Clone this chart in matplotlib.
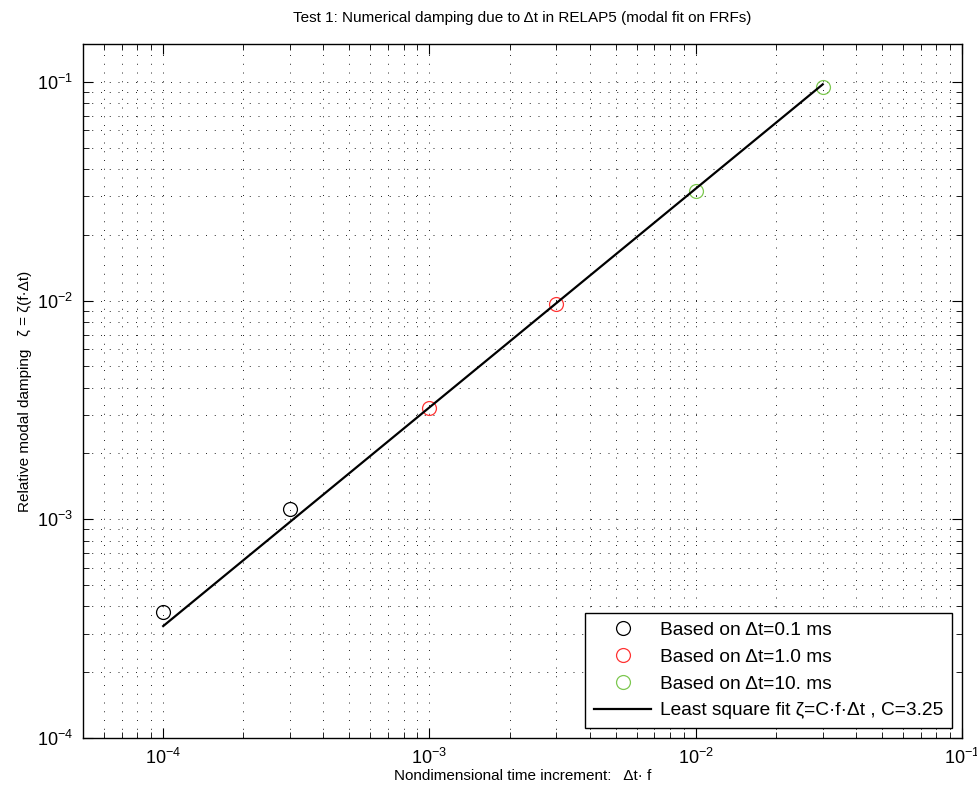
import matplotlib
matplotlib.use("Agg")
import matplotlib.pyplot as plt
from matplotlib.ticker import LogLocator, NullFormatter

plt.rcParams['font.family'] = ['Liberation Sans', 'DejaVu Sans']
plt.rcParams['mathtext.fontset'] = 'custom'
plt.rcParams['mathtext.rm'] = 'Liberation Sans'
plt.rcParams['mathtext.it'] = 'Liberation Sans:italic'

# Data
x_01ms = [1e-4, 3e-4]
y_01ms = [3.78e-4, 1.11e-3]
x_1ms = [1e-3, 3e-3]
y_1ms = [3.23e-3, 9.68e-3]
x_10ms = [1e-2, 3e-2]
y_10ms = [0.0316, 0.095]
C_fit = 3.25
x_fit = [1e-4, 3e-2]

labels = ["Based on Δt=0.1 ms", "Based on Δt=1.0 ms", "Based on Δt=10. ms",
          "Least square fit ζ=C·f·Δt , C=3.25"]

fig = plt.figure(figsize=(9.77, 7.94), dpi=100)
ax = fig.add_axes([0.085, 0.0705, 0.8996, 0.874])

ms = 10
ax.loglog(x_01ms, y_01ms, 'o', mfc='none', mec='black', ms=ms, mew=0.9, label=labels[0])
ax.loglog(x_1ms, y_1ms, 'o', mfc='none', mec='#ff3333', ms=ms, mew=0.9, label=labels[1])
ax.loglog(x_10ms, y_10ms, 'o', mfc='none', mec='#7dc850', ms=ms, mew=0.9, label=labels[2])
ax.loglog(x_fit, [C_fit * v for v in x_fit], '-', color='black', lw=1.6, label=labels[3])

ax.set_xlim(5e-5, 1e-1)
ax.set_ylim(1e-4, 0.149)

ax.xaxis.set_major_locator(LogLocator(base=10, numticks=20))
ax.yaxis.set_major_locator(LogLocator(base=10, numticks=20))
ax.xaxis.set_minor_locator(LogLocator(base=10, subs=range(2, 10), numticks=100))
ax.yaxis.set_minor_locator(LogLocator(base=10, subs=range(2, 10), numticks=100))
ax.xaxis.set_minor_formatter(NullFormatter())
ax.yaxis.set_minor_formatter(NullFormatter())

ax.grid(True, which='both', linestyle=(0, (1, 8)), color='#222222', lw=0.7)
ax.tick_params(which='both', direction='in', top=True, right=True, labelsize=13, pad=7)
ax.tick_params(which='major', length=7)
ax.tick_params(which='minor', length=4)
for s in ax.spines.values():
    s.set_linewidth(1.0)

ax.set_title("Test 1: Numerical damping due to Δt in RELAP5 (modal fit on FRFs)", fontsize=11, pad=16)
ax.set_xlabel("Nondimensional time increment:   Δt· f", fontsize=11, labelpad=1)
ax.set_ylabel("Relative modal damping   ζ = ζ(f·Δt)", fontsize=11, labelpad=4)

leg = ax.legend(loc='lower right', fontsize=13.8, fancybox=False, framealpha=1,
                edgecolor='black', borderpad=0.45, handlelength=3.0, handletextpad=0.45,
                labelspacing=0.49, borderaxespad=0,
                bbox_to_anchor=(0.9886, 0.0144))
leg.get_frame().set_linewidth(1.0)

fig.savefig("out.png", dpi=100)
